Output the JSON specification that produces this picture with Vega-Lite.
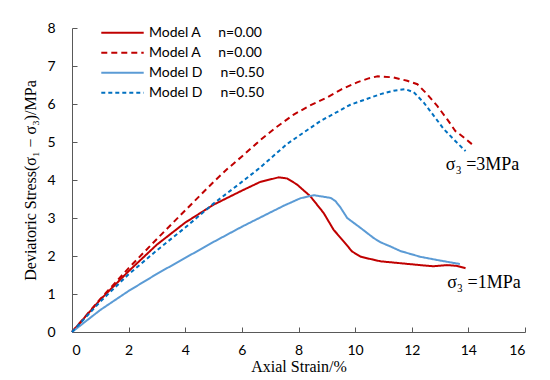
{
  "$schema": "https://vega.github.io/schema/vega-lite/v6.json",
  "width": 453,
  "height": 304,
  "autosize": {"type": "none"},
  "padding": {"left": 72, "top": 28, "right": 25, "bottom": 48},
  "background": "white",
  "config": {
    "view": {"stroke": null},
    "axis": {
      "grid": false,
      "domainColor": "#595959",
      "tickColor": "#595959",
      "labelFont": "Lato",
      "labelFontSize": 14,
      "labelColor": "#000000",
      "labelOverlap": false,
      "titleFont": "Liberation Serif",
      "titleFontSize": 16,
      "titleFontWeight": "normal",
      "titleColor": "#000000"
    }
  },
  "datasets": {
    "curves": [
      {"series": "A1", "x": 0, "y": 0},
      {"series": "A1", "x": 1, "y": 0.85},
      {"series": "A1", "x": 2, "y": 1.6},
      {"series": "A1", "x": 3, "y": 2.3},
      {"series": "A1", "x": 4, "y": 2.88},
      {"series": "A1", "x": 5, "y": 3.35},
      {"series": "A1", "x": 6, "y": 3.72},
      {"series": "A1", "x": 6.65, "y": 3.95},
      {"series": "A1", "x": 7.3, "y": 4.07},
      {"series": "A1", "x": 7.6, "y": 4.04},
      {"series": "A1", "x": 7.95, "y": 3.88},
      {"series": "A1", "x": 8.42, "y": 3.57},
      {"series": "A1", "x": 8.89, "y": 3.13},
      {"series": "A1", "x": 9.24, "y": 2.69},
      {"series": "A1", "x": 9.6, "y": 2.38},
      {"series": "A1", "x": 9.89, "y": 2.12},
      {"series": "A1", "x": 10.2, "y": 1.98},
      {"series": "A1", "x": 10.54, "y": 1.92},
      {"series": "A1", "x": 10.9, "y": 1.86},
      {"series": "A1", "x": 11.6, "y": 1.81},
      {"series": "A1", "x": 12.3, "y": 1.76},
      {"series": "A1", "x": 12.77, "y": 1.73},
      {"series": "A1", "x": 13.25, "y": 1.76},
      {"series": "A1", "x": 13.6, "y": 1.74},
      {"series": "A1", "x": 13.9, "y": 1.68},

      {"series": "A3", "x": 0, "y": 0},
      {"series": "A3", "x": 1, "y": 0.87},
      {"series": "A3", "x": 2, "y": 1.68},
      {"series": "A3", "x": 3, "y": 2.45},
      {"series": "A3", "x": 4, "y": 3.2},
      {"series": "A3", "x": 5, "y": 3.95},
      {"series": "A3", "x": 5.5, "y": 4.3},
      {"series": "A3", "x": 6, "y": 4.62},
      {"series": "A3", "x": 6.65, "y": 5.05},
      {"series": "A3", "x": 7.2, "y": 5.38},
      {"series": "A3", "x": 7.83, "y": 5.72},
      {"series": "A3", "x": 8.4, "y": 5.96},
      {"series": "A3", "x": 9, "y": 6.17},
      {"series": "A3", "x": 9.5, "y": 6.38},
      {"series": "A3", "x": 10.07, "y": 6.57},
      {"series": "A3", "x": 10.5, "y": 6.68},
      {"series": "A3", "x": 10.8, "y": 6.73},
      {"series": "A3", "x": 11.36, "y": 6.7},
      {"series": "A3", "x": 11.84, "y": 6.61},
      {"series": "A3", "x": 12.2, "y": 6.52},
      {"series": "A3", "x": 12.54, "y": 6.26},
      {"series": "A3", "x": 12.9, "y": 5.95},
      {"series": "A3", "x": 13.25, "y": 5.6},
      {"series": "A3", "x": 13.54, "y": 5.29},
      {"series": "A3", "x": 13.84, "y": 5.12},
      {"series": "A3", "x": 14.13, "y": 4.94},

      {"series": "D1", "x": 0, "y": 0},
      {"series": "D1", "x": 1, "y": 0.58},
      {"series": "D1", "x": 2, "y": 1.08},
      {"series": "D1", "x": 3, "y": 1.53},
      {"series": "D1", "x": 4, "y": 1.95},
      {"series": "D1", "x": 5, "y": 2.37},
      {"series": "D1", "x": 6, "y": 2.77},
      {"series": "D1", "x": 6.8, "y": 3.07},
      {"series": "D1", "x": 7.5, "y": 3.33},
      {"series": "D1", "x": 8.07, "y": 3.52},
      {"series": "D1", "x": 8.54, "y": 3.6},
      {"series": "D1", "x": 9.13, "y": 3.53},
      {"series": "D1", "x": 9.3, "y": 3.45},
      {"series": "D1", "x": 9.48, "y": 3.28},
      {"series": "D1", "x": 9.72, "y": 3.0},
      {"series": "D1", "x": 10.19, "y": 2.74},
      {"series": "D1", "x": 10.66, "y": 2.47},
      {"series": "D1", "x": 10.9, "y": 2.36},
      {"series": "D1", "x": 11.25, "y": 2.25},
      {"series": "D1", "x": 11.6, "y": 2.13},
      {"series": "D1", "x": 12.3, "y": 1.98},
      {"series": "D1", "x": 13.0, "y": 1.88},
      {"series": "D1", "x": 13.7, "y": 1.79},

      {"series": "D3", "x": 0, "y": 0},
      {"series": "D3", "x": 1, "y": 0.8},
      {"series": "D3", "x": 2, "y": 1.52},
      {"series": "D3", "x": 3, "y": 2.15},
      {"series": "D3", "x": 4, "y": 2.75},
      {"series": "D3", "x": 5, "y": 3.38},
      {"series": "D3", "x": 6, "y": 3.95},
      {"series": "D3", "x": 6.6, "y": 4.3},
      {"series": "D3", "x": 7.6, "y": 4.95},
      {"series": "D3", "x": 8.77, "y": 5.55},
      {"series": "D3", "x": 9.83, "y": 5.98},
      {"series": "D3", "x": 10.9, "y": 6.26},
      {"series": "D3", "x": 11.36, "y": 6.35},
      {"series": "D3", "x": 11.78, "y": 6.39},
      {"series": "D3", "x": 12.07, "y": 6.31},
      {"series": "D3", "x": 12.42, "y": 6.04},
      {"series": "D3", "x": 12.78, "y": 5.69},
      {"series": "D3", "x": 13.13, "y": 5.34},
      {"series": "D3", "x": 13.48, "y": 5.07},
      {"series": "D3", "x": 13.9, "y": 4.76}
    ],
    "notes": [
      {"x": 13.2, "y": 4.4, "text": "σ₃ =3MPa"},
      {"x": 13.25, "y": 1.3, "text": "σ₃ =1MPa"}
    ]
  },
  "encoding": {
    "x": {
      "field": "x", "type": "quantitative",
      "scale": {"domain": [0, 16], "nice": false},
      "axis": {
        "values": [0, 2, 4, 6, 8, 10, 12, 14, 16],
        "tickSize": -5,
        "labelPadding": 16,
        "title": "Axial Strain/%",
        "titlePadding": 1
      }
    },
    "y": {
      "field": "y", "type": "quantitative",
      "scale": {"domain": [0, 8], "nice": false},
      "axis": {
        "values": [0, 1, 2, 3, 4, 5, 6, 7, 8],
        "tickSize": -5,
        "labelPadding": 22,
        "title": "Deviatoric Stress(σ₁ − σ₃)/MPa",
        "titlePadding": 8
      }
    }
  },
  "layer": [
    {
      "data": {"name": "curves"},
      "mark": {"type": "line", "strokeWidth": 2},
      "encoding": {
        "color": {
          "field": "series", "type": "nominal",
          "scale": {
            "domain": ["A1", "A3", "D1", "D3"],
            "range": ["#C00000", "#C00000", "#5B9BD5", "#0070C0"]
          },
          "legend": {
            "orient": "none",
            "legendX": 28,
            "legendY": -5,
            "title": null,
            "padding": 0,
            "symbolType": "stroke",
            "symbolSize": 1800,
            "symbolStrokeWidth": 2,
            "clipHeight": 19.5,
            "rowPadding": 0,
            "labelFont": "Lato",
            "labelFontSize": 14,
            "labelColor": "#000000",
            "labelOffset": 4,
            "labelExpr": "datum.label == 'A1' || datum.label == 'A3' ? 'Model A\u00a0\u00a0\u00a0\u00a0\u00a0n=0.00' : 'Model D\u00a0\u00a0\u00a0\u00a0\u00a0n=0.50'"
          }
        },
        "strokeDash": {
          "field": "series", "type": "nominal",
          "scale": {
            "domain": ["A1", "A3", "D1", "D3"],
            "range": [[1, 0], [6, 4], [1, 0], [4, 3]]
          },
          "legend": null
        }
      }
    },
    {
      "data": {"name": "notes"},
      "mark": {"type": "text", "align": "left", "baseline": "middle", "font": "Liberation Serif", "fontSize": 18, "color": "#000000"},
      "encoding": {
        "text": {"field": "text"}
      }
    }
  ]
}
